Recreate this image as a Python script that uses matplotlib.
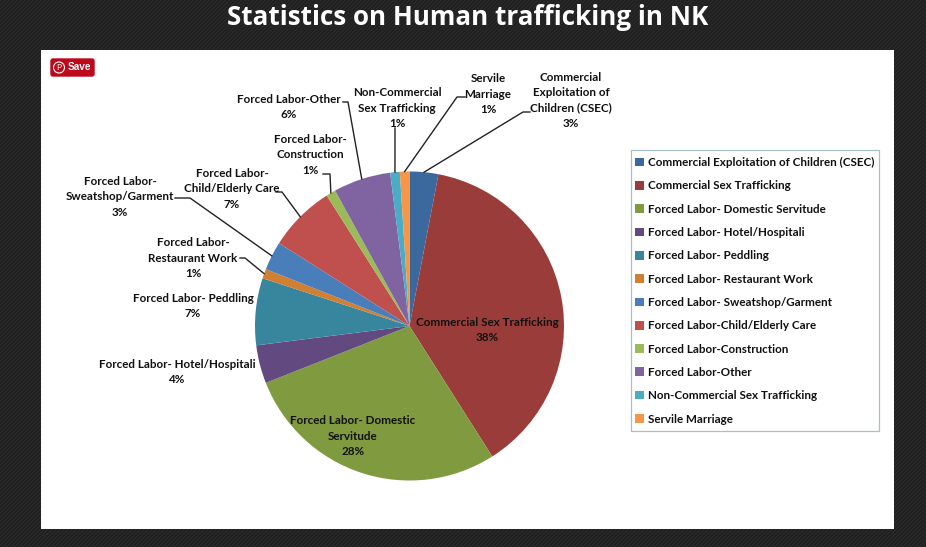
import numpy as np
import matplotlib
matplotlib.use("Agg")
import matplotlib.pyplot as plt
from matplotlib.patches import FancyBboxPatch, Rectangle, Circle

categories = ["Commercial Exploitation of Children (CSEC)", "Commercial Sex Trafficking",
              "Forced Labor- Domestic Servitude", "Forced Labor- Hotel/Hospitali",
              "Forced Labor- Peddling", "Forced Labor- Restaurant Work",
              "Forced Labor- Sweatshop/Garment", "Forced Labor-Child/Elderly Care",
              "Forced Labor-Construction", "Forced Labor-Other",
              "Non-Commercial Sex Trafficking", "Servile Marriage"]
values = [3, 38, 28, 4, 7, 1, 3, 7, 1, 6, 1, 1]
label_lines = ["Commercial\nExploitation of\nChildren (CSEC)", "Commercial Sex Trafficking",
               "Forced Labor- Domestic\nServitude", "Forced Labor- Hotel/Hospitali",
               "Forced Labor- Peddling", "Forced Labor-\nRestaurant Work",
               "Forced Labor-\nSweatshop/Garment", "Forced Labor-\nChild/Elderly Care",
               "Forced Labor-\nConstruction", "Forced Labor-Other",
               "Non-Commercial\nSex Trafficking", "Servile\nMarriage"]
colors = ["#3b699e", "#9a3d3a", "#7f9a3f", "#624a80", "#38869e", "#d17f33",
          "#4a7ebb", "#c0504d", "#9bbb59", "#8064a2", "#4bacc6", "#f79646"]

W, H = 926, 547
FONT = ["Lato", "DejaVu Sans"]
fig = plt.figure(figsize=(W / 100, H / 100), dpi=100)
ax = fig.add_axes([0, 0, 1, 1])
Y = lambda py: H - py

# dark textured page
yy, xx = np.mgrid[0:H, 0:W]
tex = 0.125 + 0.035 * (((xx + yy) % 4) < 2)
ax.imshow(tex, cmap="gray", vmin=0, vmax=1, extent=(0, W, 0, H), zorder=0, interpolation="nearest")
ax.add_patch(Rectangle((41, Y(529)), 853, 479, fc="white", ec="none", zorder=1))

wedges, _ = ax.pie(values, colors=colors, startangle=90, counterclock=False,
                   center=(409.5, Y(326)), radius=154.5, frame=True,
                   wedgeprops=dict(linewidth=0, zorder=2))
for w in wedges:
    w.set_zorder(2)
ax.set_xlim(0, W)
ax.set_ylim(0, H)
ax.set_aspect("auto")
ax.axis("off")

# label centres and leader knees, in page pixels
label_pos = [(571, 100.5), (487, 330), (353, 436), (177, 372), (193, 306), (193, 258),
             (120, 197), (232, 189), (310, 155), (289, 107), (397, 108), (488, 94)]
knees = {0: [(523, 112), (530, 112)], 5: [(245, 258), (240, 258)], 6: [(190, 198), (175, 198)],
         7: [(282, 192), (276, 192)], 8: [(330, 174), (323, 174)], 9: [(348, 102), (343, 102)],
         10: [(395, 128)], 11: [(457, 97), (465, 97)]}

for i, (txt, v, (px, py)) in enumerate(zip(label_lines, values, label_pos)):
    ax.text(px, Y(py), f"{txt}\n{v}%", ha="center", va="center", fontsize=8.4,
            fontweight="bold", family=FONT, color="#111111", linespacing=1.48, zorder=5)
    if i in knees:
        th = np.deg2rad((wedges[i].theta1 + wedges[i].theta2) / 2)
        cx, cy = wedges[i].center
        r = wedges[i].r
        pts = [(cx + r * np.cos(th), cy + r * np.sin(th))] + [(a, Y(b)) for a, b in knees[i]]
        ax.plot(*zip(*pts), color="#222222", lw=1.0, zorder=4)

# legend
ax.add_patch(Rectangle((631, Y(431)), 248, 281, fc="white", ec="#a5c0c6", lw=0.9, zorder=3))
leg = ax.legend(wedges, categories, loc="upper left", bbox_to_anchor=(631 / W, 1 - 153 / H),
                bbox_transform=fig.transFigure, borderaxespad=0, frameon=False,
                handlelength=0.77, handleheight=0.77,
                handletextpad=0.34, labelspacing=1.055, borderpad=0.35,
                prop=dict(family=FONT, weight="bold", size=8.4))
leg.set_zorder(5)
for t in leg.get_texts():
    t.set_color("#111111")

# Pinterest button
ax.add_patch(FancyBboxPatch((51, Y(76)), 43, 17, boxstyle="round,pad=0,rounding_size=2", fc="#bd081c",
                            ec="#bd081c", lw=1, zorder=6))
ax.add_patch(Circle((59, Y(67.5)), 5.5, fc="none", ec="white", lw=0.8, zorder=7))
ax.text(59, Y(67.5), "P", color="white", fontsize=6, ha="center", va="center", zorder=7, family=FONT)
ax.text(68, Y(67.5), "Save", color="white", fontsize=7.2, fontweight="bold", ha="left", va="center",
        zorder=7, family=["Liberation Sans", "DejaVu Sans"])

# title
ax.text(468, Y(17.5), "Statistics on Human trafficking in NK", color="white", fontsize=18.7,
        fontweight="bold", ha="center", va="center", family=["Open Sans", "DejaVu Sans"], zorder=7)

fig.savefig("out.png", dpi=100)
